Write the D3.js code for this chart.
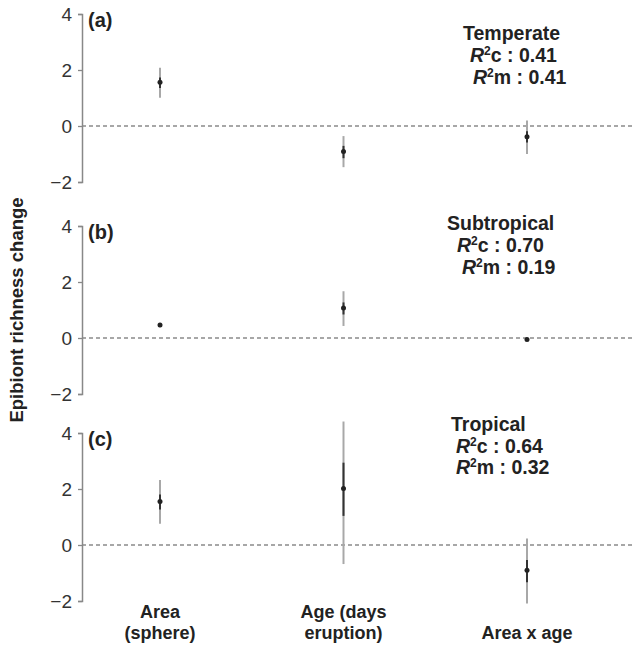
<!DOCTYPE html>
<html>
<head>
<meta charset="utf-8">
<script src="https://cdn.jsdelivr.net/npm/d3@7"></script>
<style>
  html, body { margin: 0; padding: 0; background: #fff; }
  svg { display: block; font-family: "Liberation Sans", Arial, sans-serif; }
</style>
</head>
<body>
<script>
// ---- data ----
const categories = ["Area (sphere)", "Age (days eruption)", "Area x age"];
const categoryLines = [["Area", "(sphere)"], ["Age (days", "eruption)"], ["", "Area x age"]];
const panelLetters = ["(a)", "(b)", "(c)"];
const regions = ["Temperate", "Subtropical", "Tropical"];
const r2c = ["0.41", "0.70", "0.64"];
const r2m = ["0.41", "0.19", "0.32"];
const yTicks = [4, 2, 0, -2];
const yTitle = "Epibiont richness change";

// per region (rows) x per category (columns)
const estimate = [[1.56, -0.91, -0.38], [0.46, 1.07, -0.05], [1.55, 2.02, -0.90]];
const outerLow = [[1.01, -1.47, -1.00], [0.38, 0.43, -0.09], [0.76, -0.68, -2.09]];
const outerHigh = [[2.08, -0.36, 0.20], [0.54, 1.67, -0.01], [2.32, 4.41, 0.23]];
const innerLow = [[1.36, -1.15, -0.59], [0.40, 0.84, -0.08], [1.27, 1.04, -1.33]];
const innerHigh = [[1.73, -0.71, -0.19], [0.52, 1.27, -0.02], [1.80, 2.94, -0.54]];

// ---- layout ----
const W = 640, H = 646;
const axisX = 82, rightX = 632;
const panelTops = [14, 226, 433];
const panelH = 168;
const annX = [[463, 470, 473], [447, 457, 462], [451, 456, 456]];
const annY = [[40, 62, 84], [230, 252, 274], [431, 453, 474]];

const svg = d3.select("body").append("svg").attr("width", W).attr("height", H);
svg.append("rect").attr("width", W).attr("height", H).attr("fill", "#fff");

const x = d3.scalePoint().domain(categories).range([160, 527]);

regions.forEach((reg, i) => {
  const y = d3.scaleLinear().domain([-2, 4]).range([panelTops[i] + panelH, panelTops[i]]);
  const g = svg.append("g");

  // zero dashed line
  g.append("line")
    .attr("x1", axisX).attr("x2", rightX)
    .attr("y1", y(0)).attr("y2", y(0))
    .attr("stroke", "#8a8a8a").attr("stroke-width", 1.3)
    .attr("stroke-dasharray", "4,3");

  // y axis
  const ax = g.append("g").attr("transform", `translate(${axisX},0)`)
    .call(d3.axisLeft(y).tickValues(yTicks).tickSize(4).tickPadding(6)
      .tickFormat(d => d < 0 ? "\u2212" + Math.abs(d) : d));
  ax.select(".domain").attr("stroke", "#888").attr("stroke-width", 1.5);
  ax.selectAll(".tick line").attr("stroke", "#888").attr("stroke-width", 1.3);
  ax.selectAll(".tick text").attr("fill", "#333").attr("font-size", 19)
    .attr("font-family", "Liberation Sans, Arial, sans-serif");

  // panel letter
  g.append("text").attr("x", axisX + 6).attr("y", panelTops[i] + 13)
    .attr("font-size", 20).attr("font-weight", "bold").attr("fill", "#222")
    .text(panelLetters[i]);

  // annotations
  const ann = g.append("g").attr("font-weight", "bold").attr("font-size", 19.5).attr("fill", "#222");
  ann.append("text").attr("x", annX[i][0]).attr("y", annY[i][0]).text(reg);
  const l1 = ann.append("text").attr("x", annX[i][1]).attr("y", annY[i][1]);
  l1.append("tspan").attr("font-style", "italic").text("R");
  l1.append("tspan").attr("font-size", 12).attr("dy", -7).text("2");
  l1.append("tspan").attr("dy", 7).text("c : " + r2c[i]);
  const l2 = ann.append("text").attr("x", annX[i][2]).attr("y", annY[i][2]);
  l2.append("tspan").attr("font-style", "italic").text("R");
  l2.append("tspan").attr("font-size", 12).attr("dy", -7).text("2");
  l2.append("tspan").attr("dy", 7).text("m : " + r2m[i]);

  // error bars
  const pts = g.selectAll(".pt").data(categories).enter().append("g");
  pts.append("line")
    .attr("x1", d => x(d)).attr("x2", d => x(d))
    .attr("y1", (d, j) => y(outerLow[i][j])).attr("y2", (d, j) => y(outerHigh[i][j]))
    .attr("stroke", "#a8a8a8").attr("stroke-width", 2);
  pts.append("line")
    .attr("x1", d => x(d)).attr("x2", d => x(d))
    .attr("y1", (d, j) => y(innerLow[i][j])).attr("y2", (d, j) => y(innerHigh[i][j]))
    .attr("stroke", "#333").attr("stroke-width", 2);
  pts.append("circle")
    .attr("cx", d => x(d)).attr("cy", (d, j) => y(estimate[i][j]))
    .attr("r", 2.5).attr("fill", "#222");
});

// x labels
const xl = svg.append("g").attr("font-weight", "bold").attr("font-size", 18).attr("fill", "#222");
categories.forEach((c, j) => {
  categoryLines[j].forEach((t, k) => {
    if (!t) return;
    xl.append("text").attr("x", x(c)).attr("y", 618 + k * 21)
      .attr("text-anchor", "middle").text(t);
  });
});

// y title
svg.append("text")
  .attr("transform", `translate(23,${310}) rotate(-90)`)
  .attr("text-anchor", "middle").attr("font-weight", "bold").attr("font-size", 18.5)
  .attr("fill", "#222").text(yTitle);
</script>
</body>
</html>
